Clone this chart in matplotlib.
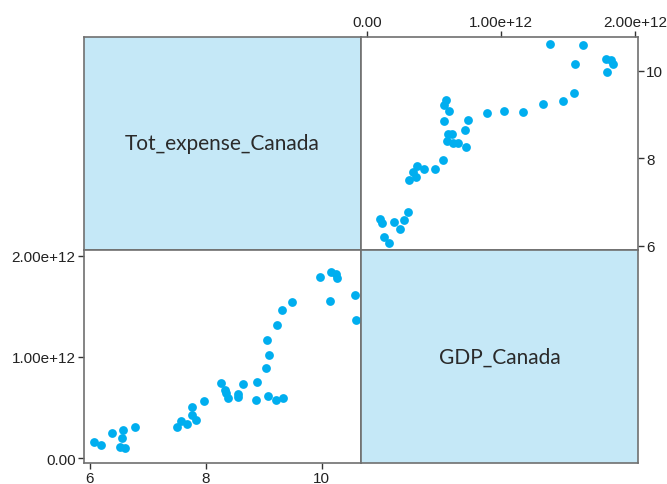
import numpy as np
import matplotlib
matplotlib.use("Agg")
import matplotlib.pyplot as plt

# Canada: total health expense (log scale) vs GDP
tot_expense = [6.07, 6.20, 6.39, 6.58, 6.55, 6.52, 6.61, 6.78, 7.51, 7.57,
               7.68, 7.76, 7.76, 7.83, 7.97, 8.26, 8.34, 8.35, 8.39, 8.56,
               8.55, 8.64, 8.86, 8.88, 9.07, 9.21, 9.33, 9.04, 9.09, 9.05,
               9.23, 9.31, 9.49, 9.97, 10.16, 10.25, 10.26, 10.15, 10.58, 10.60]
gdp = [0.164, 0.131, 0.247, 0.276, 0.203, 0.115, 0.102, 0.306, 0.312, 0.365,
       0.342, 0.509, 0.430, 0.378, 0.566, 0.740, 0.677, 0.642, 0.595, 0.632,
       0.605, 0.733, 0.578, 0.756, 0.615, 0.578, 0.592, 0.894, 1.020, 1.168,
       1.313, 1.461, 1.546, 1.790, 1.836, 1.819, 1.783, 1.550, 1.612, 1.368]
gdp = np.array(gdp) * 1e12

var_names = ["Tot_expense_Canada", "GDP_Canada"]
tot_ticks = [6, 8, 10]
gdp_ticks = [0, 1e12, 2e12]
gdp_labels = ["0.00", "1.00e+12", "2.00e+12"]

W, H = 667, 485
fig = plt.figure(figsize=(W / 100, H / 100), dpi=100)

x0, xm, x1 = 84, 361, 638
y0, ym, y1 = 38, 251, 464

def panel(left, top, right, bottom):
    return fig.add_axes([left / W, 1 - bottom / H, (right - left) / W, (bottom - top) / H])

strip = "#c5e8f7"
edge = "#707070"
dot = "#00aeef"
tick_font = dict(family=["Liberation Sans", "DejaVu Sans"], size=11, color="#222222")
label_font = ["Lato", "DejaVu Sans"]

axes = [panel(x0, y0, xm, ym), panel(xm, y0, x1, ym),
        panel(x0, ym, xm, y1), panel(xm, ym, x1, y1)]
for ax in axes:
    for s in ax.spines.values():
        s.set_color(edge)
        s.set_linewidth(1.2)

# diagonal: variable names
for ax, name in zip([axes[0], axes[3]], var_names):
    ax.set_facecolor(strip)
    ax.set_xticks([])
    ax.set_yticks([])
    ax.text(0.5, 0.5, name, transform=ax.transAxes, ha="center", va="center",
            fontsize=15, color="#2a2a2a", family=label_font)

# lower-left: GDP vs total expense
ax = axes[2]
ax.scatter(tot_expense, gdp, s=40, color=dot, linewidths=0, zorder=3)
ax.set_xlim(5.898, 10.682)
ax.set_ylim(-0.0464e12, 2.056e12)
ax.set_xticks(tot_ticks)
ax.set_xticklabels([str(t) for t in tot_ticks], **tick_font)
ax.set_yticks(gdp_ticks)
ax.set_yticklabels(gdp_labels, **tick_font)
ax.tick_params(direction="out", length=4, width=1, color="#333333", pad=2)

# upper-right: total expense vs GDP
ax = axes[1]
ax.scatter(gdp, tot_expense, s=40, color=dot, linewidths=0, zorder=3)
ax.set_xlim(-0.0425e12, 2.0216e12)
ax.set_ylim(5.902, 10.770)
ax.xaxis.tick_top()
ax.yaxis.tick_right()
ax.set_xticks(gdp_ticks)
ax.set_xticklabels(gdp_labels, **tick_font)
ax.set_yticks(tot_ticks)
ax.set_yticklabels([str(t) for t in tot_ticks], **tick_font)
ax.tick_params(direction="out", length=4, width=1, color="#333333", pad=2)

fig.savefig("out.png", dpi=100)
